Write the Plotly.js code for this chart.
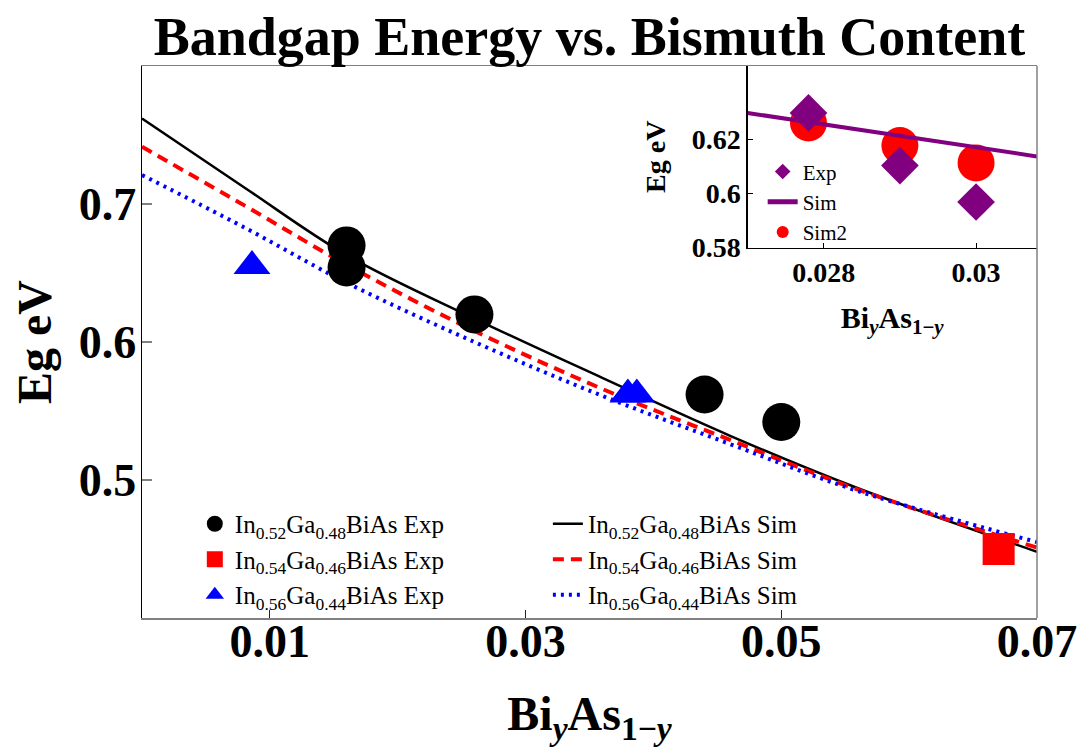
<!DOCTYPE html>
<html>
<head>
<meta charset="utf-8">
<script src="https://cdn.plot.ly/plotly-3.0.1.min.js"></script>
<style>
  html, body { margin: 0; padding: 0; background: #fff; }
  #chart { width: 1085px; height: 750px; }
</style>
</head>
<body>
<div id="chart"></div>
<script>
// Simulated bandgap curves (Eg in eV) versus Bi fraction y
const simX     = [0, 0.008, 0.016, 0.026, 0.036, 0.046, 0.056, 0.07];
const simIn52  = [0.762, 0.712, 0.663, 0.617, 0.574, 0.532, 0.494, 0.448];
const simIn54  = [0.7415, 0.699, 0.656, 0.608, 0.566, 0.529, 0.493, 0.451];
const simIn56  = [0.721, 0.683, 0.643, 0.600, 0.561, 0.526, 0.492, 0.455];

// Measured bandgaps
const expIn52X = [0.016, 0.016, 0.026, 0.044, 0.050];
const expIn52Y = [0.670, 0.654, 0.620, 0.562, 0.542];
const expIn54X = [0.067];
const expIn54Y = [0.450];
const expIn56X = [0.0086, 0.038, 0.0387];
const expIn56Y = [0.655, 0.562, 0.562];

// Close-up around y = 0.028 - 0.030
const insetX      = [0.0278, 0.0290, 0.0300];
const insetExp    = [0.6299, 0.6104, 0.5969];
const insetSim2   = [0.6262, 0.6178, 0.6114];
const insetSimX   = [0.027, 0.0308];
const insetSim    = [0.6299, 0.6138];

// Tick labels
const mainXTicks = [0.01, 0.03, 0.05, 0.07];
const mainXText  = ['0.01', '0.03', '0.05', '0.07'];
const mainYTicks = [0.5, 0.6, 0.7];
const mainYText  = ['0.5', '0.6', '0.7'];
const insetXTicks = [0.028, 0.03];
const insetXText  = ['0.028', '0.03'];
const insetYTicks = [0.58, 0.6, 0.62];
const insetYText  = ['0.58', '0.6', '0.62'];

const SERIF = '"Liberation Serif", "Times New Roman", serif';
const PURPLE = '#800080';

const traces = [
  // simulation curves (drawn beneath the markers)
  { x: simX, y: simIn52, type: 'scatter', mode: 'lines', name: 'In<sub>0.52</sub>Ga<sub>0.48</sub>BiAs Sim',
    line: { color: '#000000', width: 2.5, shape: 'spline' }, legend: 'legend2', legendrank: 1 },
  { x: simX, y: simIn54, type: 'scatter', mode: 'lines', name: 'In<sub>0.54</sub>Ga<sub>0.46</sub>BiAs Sim',
    line: { color: '#ff0000', width: 4, shape: 'spline', dash: '11px,7px' }, legend: 'legend2', legendrank: 2 },
  { x: simX, y: simIn56, type: 'scatter', mode: 'lines', name: 'In<sub>0.56</sub>Ga<sub>0.44</sub>BiAs Sim',
    line: { color: '#0000ff', width: 4, shape: 'spline', dash: '3px,5px' }, legend: 'legend2', legendrank: 3 },

  // experimental points
  { x: expIn52X, y: expIn52Y, type: 'scatter', mode: 'markers', name: 'In<sub>0.52</sub>Ga<sub>0.48</sub>BiAs Exp',
    marker: { symbol: 'circle', size: 38, color: '#000000' }, legendrank: 1 },
  { x: expIn54X, y: expIn54Y, type: 'scatter', mode: 'markers', name: 'In<sub>0.54</sub>Ga<sub>0.46</sub>BiAs Exp',
    marker: { symbol: 'square', size: 32, color: '#ff0000' }, legendrank: 2 },
  { x: expIn56X, y: expIn56Y, type: 'scatter', mode: 'markers', name: 'In<sub>0.56</sub>Ga<sub>0.44</sub>BiAs Exp',
    marker: { symbol: 'triangle-up', size: 32, color: '#0000ff' }, legendrank: 3 },

  // inset
  { x: insetX, y: insetSim2, type: 'scatter', mode: 'markers', name: 'Sim2', xaxis: 'x2', yaxis: 'y2',
    marker: { symbol: 'circle', size: 37, color: '#ff0000' }, legend: 'legend3', legendrank: 3 },
  { x: insetSimX, y: insetSim, type: 'scatter', mode: 'lines', name: 'Sim', xaxis: 'x2', yaxis: 'y2',
    line: { color: PURPLE, width: 4 }, legend: 'legend3', legendrank: 2 },
  { x: insetX, y: insetExp, type: 'scatter', mode: 'markers', name: 'Exp', xaxis: 'x2', yaxis: 'y2',
    marker: { symbol: 'diamond', size: 29, color: PURPLE }, legend: 'legend3', legendrank: 1 }
];

const tickFont = { family: SERIF, size: 46, color: '#000', weight: 'bold' };
const insetTickFont = { family: SERIF, size: 28, color: '#000', weight: 'bold' };
const legendFont = { family: SERIF, size: 25, color: '#000' };

const layout = {
  width: 1085, height: 750,
  paper_bgcolor: '#ffffff', plot_bgcolor: 'rgba(0,0,0,0)',
  margin: { l: 142.3, r: 48, t: 65.7, b: 132.3 },
  showlegend: true,
  title: {
    text: 'Bandgap Energy vs. Bismuth Content',
    font: { family: SERIF, size: 54, color: '#000', weight: 'bold' },
    x: 0.5, xref: 'paper', xanchor: 'center',
    y: 0.952, yref: 'container', yanchor: 'middle'
  },
  xaxis: {
    range: [0, 0.07], domain: [0, 1], anchor: 'y',
    tickvals: mainXTicks, ticktext: mainXText, tickfont: tickFont,
    ticks: 'inside', ticklen: 8, tickwidth: 1.2, tickcolor: '#222',
    ticklabelstandoff: -18,
    showline: true, linecolor: '#808080', linewidth: 1.5, mirror: true,
    showgrid: false, zeroline: false,
    title: { text: 'Bi<sub><i>y</i></sub>As<sub>1\u2212<i>y</i></sub>', standoff: 30,
      font: { family: SERIF, size: 48, color: '#000', weight: 'bold' } }
  },
  yaxis: {
    range: [0.4, 0.8], domain: [0, 1], anchor: 'x',
    tickvals: mainYTicks, ticktext: mainYText, tickfont: tickFont,
    ticks: 'inside', ticklen: 10, tickwidth: 1.2, tickcolor: '#808080',
    ticklabelstandoff: -5,
    showline: true, linecolor: '#000000', linewidth: 1.5,
    showgrid: false, zeroline: false,
    title: { text: 'Eg eV', standoff: 12,
      font: { family: SERIF, size: 48, color: '#000', weight: 'bold' } }
  },
  xaxis2: {
    range: [0.027, 0.0308], domain: [0.6766, 1], anchor: 'y2',
    tickvals: insetXTicks, ticktext: insetXText, tickfont: insetTickFont,
    ticks: 'inside', ticklen: 5, tickwidth: 1, tickcolor: '#000',
    showline: true, linecolor: '#000', linewidth: 1.2,
    showgrid: false, zeroline: false,
    title: { text: 'Bi<sub><i>y</i></sub>As<sub>1\u2212<i>y</i></sub>', standoff: 19,
      font: { family: SERIF, size: 30, color: '#000', weight: 'bold' } }
  },
  yaxis2: {
    range: [0.58, 0.6473], domain: [0.671, 1], anchor: 'x2',
    tickvals: insetYTicks, ticktext: insetYText, tickfont: insetTickFont,
    ticks: 'inside', ticklen: 5, tickwidth: 1, tickcolor: '#000',
    showline: true, linecolor: '#000', linewidth: 1.2,
    showgrid: false, zeroline: false,
    title: { text: 'Eg eV', standoff: 18,
      font: { family: SERIF, size: 28, color: '#000', weight: 'bold' } }
  },
  legend: {
    x: 0.059, y: 0.212, xanchor: 'left', yanchor: 'top',
    bgcolor: 'rgba(0,0,0,0)', borderwidth: 0, font: legendFont,
    itemsizing: 'trace', tracegroupgap: 0
  },
  legend2: {
    x: 0.4535, y: 0.212, xanchor: 'left', yanchor: 'top',
    bgcolor: 'rgba(0,0,0,0)', borderwidth: 0, font: legendFont,
    tracegroupgap: 0
  },
  legend3: {
    x: 0.6935, y: 0.8455, xanchor: 'left', yanchor: 'top',
    bgcolor: 'rgba(0,0,0,0)', borderwidth: 0,
    font: { family: SERIF, size: 21, color: '#000' },
    itemsizing: 'constant', tracegroupgap: 0
  },
  shapes: [
    // right side of the frame
    { type: 'line', xref: 'paper', yref: 'paper', x0: 1, x1: 1, y0: 0, y1: 1,
      line: { color: '#808080', width: 1.5 } }
  ]
};

Plotly.newPlot('chart', traces, layout, { displayModeBar: false, staticPlot: true });
</script>
</body>
</html>
